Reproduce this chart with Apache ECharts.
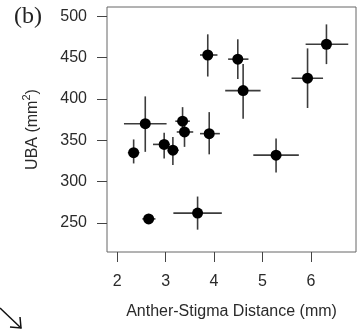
<!DOCTYPE html>
<html>
<head>
<meta charset="utf-8">
<script src="https://cdn.jsdelivr.net/npm/echarts@6/dist/echarts.min.js"></script>
<style>
  html, body { margin: 0; padding: 0; background: #fff; }
  #chart { width: 359px; height: 330px; }
</style>
</head>
<body>
<div id="chart"></div>
<script>
// anther-stigma distance (mm), mean and error range
let distMean = [2.34, 2.58, 2.65, 2.97, 3.15, 3.35, 3.39, 3.66, 3.87, 3.90, 4.49, 4.60, 5.28, 5.93, 6.32];
let distLow  = [2.22, 2.14, 2.52, 2.74, 3.05, 3.20, 3.23, 3.16, 3.71, 3.71, 4.29, 4.23, 4.81, 5.60, 5.89];
let distHigh = [2.46, 3.02, 2.79, 3.09, 3.27, 3.50, 3.57, 4.16, 4.07, 4.12, 4.71, 4.96, 5.75, 6.25, 6.77];
// UBA (mm2), mean and error range
let ubaMean = [335, 370, 255, 345, 338, 373, 360, 262, 453, 358, 448, 410, 332, 425, 466];
let ubaLow  = [322, 336, 249, 328, 320, 358, 342, 242, 427, 333, 424, 376, 311, 389, 442];
let ubaHigh = [351, 403, 261, 359, 354, 390, 368, 282, 478, 384, 472, 442, 352, 461, 490];

let xTicks = [2, 3, 4, 5, 6];
let yTicks = [250, 300, 350, 400, 450, 500];

let points = distMean.map((x, i) => [x, ubaMean[i]]);
let bars = distMean.map((x, i) => [x, ubaMean[i], distLow[i], distHigh[i], ubaLow[i], ubaHigh[i]]);

let myChart = echarts.init(document.getElementById('chart'));

let textColor = '#2a2a2a';
let font = 'Liberation Sans, Arial, sans-serif';

let option = {
    animation: false,
    grid: {
        left: 107,
        right: 3,
        top: 7,
        bottom: 78,
        show: true,
        borderColor: '#666',
        borderWidth: 1,
        outerBoundsMode: 'none'
    },
    xAxis: {
        type: 'value',
        min: 1.79,
        max: 6.93,
        name: 'Anther-Stigma Distance (mm)',
        nameLocation: 'middle',
        nameGap: 52,
        nameTextStyle: { color: textColor, fontSize: 16, fontFamily: font },
        axisLine: { show: false },
        splitLine: { show: false },
        axisTick: {
            customValues: xTicks,
            length: 10,
            lineStyle: { color: '#444', width: 1 }
        },
        axisLabel: {
            customValues: xTicks,
            margin: 22,
            color: textColor,
            fontSize: 16,
            fontFamily: font
        }
    },
    yAxis: {
        type: 'value',
        min: 215,
        max: 511,
        // superscript 2 done with rich text
        name: '{a|UBA (mm}{s|2}{a|)}',
        nameLocation: 'middle',
        nameGap: 66,
        nameTextStyle: {
            color: textColor,
            fontSize: 16,
            fontFamily: font,
            rich: {
                a: { color: textColor, fontSize: 16, fontFamily: font, lineHeight: 20, verticalAlign: 'bottom' },
                s: { color: textColor, fontSize: 11, fontFamily: font, lineHeight: 20, verticalAlign: 'top', padding: [0, 0, 8, 0] }
            }
        },
        axisLine: { show: false },
        splitLine: { show: false },
        axisTick: {
            customValues: yTicks,
            length: 10,
            lineStyle: { color: '#444', width: 1 }
        },
        axisLabel: {
            customValues: yTicks,
            margin: 20,
            color: textColor,
            fontSize: 16,
            fontFamily: font
        }
    },
    graphic: [
        {
            type: 'text',
            left: 14,
            top: 5,
            style: {
                text: '(b)',
                fill: '#222',
                font: '24px "Liberation Serif", "Times New Roman", serif'
            }
        },
        {
            type: 'polyline',
            shape: { points: [[0, 308], [21, 328]] },
            style: { stroke: '#111', lineWidth: 1.5, fill: null }
        },
        {
            type: 'polyline',
            shape: { points: [[10, 327], [21, 328], [20, 317]] },
            style: { stroke: '#111', lineWidth: 1.5, fill: null }
        }
    ],
    series: [
        {
            // error bars
            type: 'custom',
            data: bars,
            renderItem: function (params, api) {
                let c = api.coord([api.value(0), api.value(1)]);
                let left = api.coord([api.value(2), api.value(1)]);
                let right = api.coord([api.value(3), api.value(1)]);
                let low = api.coord([api.value(0), api.value(4)]);
                let high = api.coord([api.value(0), api.value(5)]);
                let style = { stroke: '#3c3c3c', lineWidth: 1.6 };
                return {
                    type: 'group',
                    children: [
                        { type: 'line', shape: { x1: left[0], y1: c[1], x2: right[0], y2: c[1] }, style: style },
                        { type: 'line', shape: { x1: c[0], y1: low[1], x2: c[0], y2: high[1] }, style: style }
                    ]
                };
            },
            z: 1
        },
        {
            type: 'scatter',
            data: points,
            symbol: 'circle',
            symbolSize: 11,
            itemStyle: { color: '#000', opacity: 1 },
            z: 2
        }
    ]
};
option && myChart.setOption(option);
</script>
</body>
</html>
